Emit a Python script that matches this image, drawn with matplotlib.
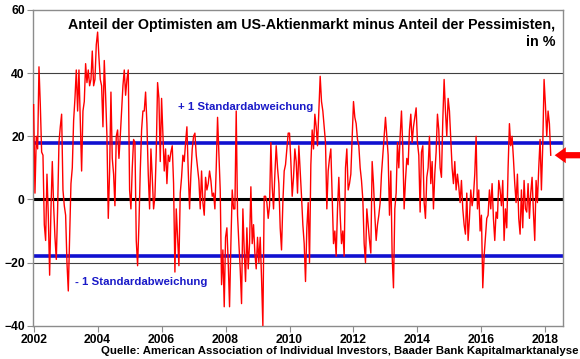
import numpy as np
import matplotlib
matplotlib.use("Agg")
import matplotlib.pyplot as plt

plt.rcParams['font.family'] = ['Liberation Sans', 'DejaVu Sans']
plt.rcParams['font.weight'] = 'bold'

# AAII bull-bear spread in %, two readings per month
v2002 = [30, 2, 20, 16, 42, 30, 15, 14, -8, -13, 8, -5, -24, -3, 12, -2, -12, -19, -3, 18, 23, 27, 3, -2]
v2003 = [-5, -20, -29, -12, 5, 10, 25, 32, 41, 28, 41, 25, 9, 28, 31, 43, 37, 41, 36, 38, 47, 36, 38, 49]
v2004 = [53, 45, 38, 36, 23, 44, 33, 20, -6, 9, 34, 13, 8, -2, 20, 22, 13, 20, 28, 36, 41, 33, 38, 41]
v2005 = [3, -3, 10, 19, 18, -13, -21, -8, 9, 22, 28, 28, 34, 24, 8, -3, 16, 7, -3, 1, 15, 37, 32, 12]
v2006 = [32, 20, 9, 16, 5, 14, 12, 15, 17, 5, -23, -3, -12, -21, 2, 7, 14, 12, 18, 23, 9, -3, 8, 16]
v2007 = [20, 21, 14, 10, 6, -3, 9, -1, -5, 7, 3, 5, 9, 6, 1, 2, -3, 10, 26, 14, 3, -27, -16, -34]
v2008 = [-12, -9, -20, -34, -14, 3, -3, -3, 28, -5, -14, -22, -33, -3, -16, -26, -9, -22, -14, 4, -14, -8, -17, -22]
v2009 = [-12, -20, -12, -25, -40, 1, 1, -1, -6, -2, 18, 4, -3, 8, 17, 10, 5, -9, -16, -1, 9, 11, 16, 21]
v2010 = [21, 12, 1, 7, 16, 12, 2, 17, 9, 1, -8, -14, -26, -9, -1, -20, 11, 22, 16, 27, 23, 17, 28, 39]
v2011 = [31, 28, 23, 18, -3, 9, 13, 16, 1, -14, -10, -18, -3, 7, -5, -14, -10, -18, 10, 16, 3, 5, 8, 20]
v2012 = [31, 26, 24, 19, 17, 10, 6, 0, -14, -20, -3, -8, -13, -17, 12, 5, -5, -13, -8, -5, -1, 8, 14, 20]
v2013 = [26, 20, 14, -5, 9, -18, -28, -3, 2, 18, 10, 20, 28, 16, -3, 6, 13, 11, 22, 27, 18, 23, 26, 29]
v2014 = [18, 14, -4, 15, 17, -1, -6, 7, 10, 20, 5, 12, -3, 8, 15, 27, 22, 10, 7, 25, 38, 28, 20, 32]
v2015 = [28, 19, 10, 5, 12, 3, 8, 4, -1, 6, -3, -8, -11, 2, -13, -6, 3, -2, 1, 8, 20, -3, 3, -10]
v2016 = [-5, -28, -18, -12, -6, -5, 3, -3, 5, -6, -13, -4, -6, 6, 3, -2, 6, -13, -3, -9, 10, 24, 17, 20]
v2017 = [13, 5, -1, 8, -6, -11, 3, -9, 6, -3, -4, 5, -6, 2, 7, -4, -13, 6, -1, 10, 19, 3, 17, 38]
v2018 = [30, 20, 28, 24, 14]

spread = np.array(v2002 + v2003 + v2004 + v2005 + v2006 + v2007 + v2008 + v2009
                  + v2010 + v2011 + v2012 + v2013 + v2014 + v2015 + v2016 + v2017 + v2018,
                  dtype=float)
dates = 2002 + np.arange(len(spread)) / 24.0

std_dev = 18
year_ticks = list(range(2002, 2019, 2))
value_ticks = [-40, -20, 0, 20, 40, 60]

title = "Anteil der Optimisten am US-Aktienmarkt minus Anteil der Pessimisten,\nin %"
source = "Quelle: American Association of Individual Investors, Baader Bank Kapitalmarktanalyse"

fig = plt.figure(figsize=(5.8, 3.59), dpi=100)
ax = fig.add_axes([33 / 580, 1 - 325.7 / 359, (563 - 33) / 580, (325.7 - 10) / 359])

grey = '#8c8c8c'
for g in [40, 20, -20]:
    ax.axhline(g, color='#404040', lw=0.8, zorder=1)
ax.axhline(0, color='black', lw=2.2, zorder=2)
ax.axhline(std_dev, color='#1010d0', lw=2.6, zorder=2)
ax.axhline(-std_dev, color='#1010d0', lw=2.6, zorder=2)

ax.plot(dates, spread, color='#ff0000', lw=1.0, zorder=3)

ax.set_xlim(2001.98, 2018.55)
ax.set_ylim(-40, 60)
ax.set_xticks(year_ticks)
ax.set_yticks(value_ticks)
ax.tick_params(axis='both', direction='out', length=4, color=grey, labelsize=8.7, pad=2)
for lab in ax.get_xticklabels() + ax.get_yticklabels():
    lab.set_fontweight('bold')
for s in ax.spines.values():
    s.set_color(grey)
    s.set_linewidth(1.0)

ax.text(0.985, 0.975, title, transform=ax.transAxes, ha='right', va='top',
        fontsize=10.3, fontweight='bold', linespacing=1.25, zorder=5)

ax.text(2006.5, 29.2, "+ 1 Standardabweichung", color='#1a1ac8', fontsize=8.2,
        fontweight='bold', va='center', ha='left', zorder=4)
ax.text(2003.3, -26.3, "- 1 Standardabweichung", color='#1a1ac8', fontsize=8.2,
        fontweight='bold', va='center', ha='left', zorder=4)

# red arrow pointing at the latest reading
ax.annotate('', xy=(2018.29, spread[-1]), xytext=(2019.15, spread[-1]),
            arrowprops=dict(arrowstyle='simple,head_length=0.8,head_width=1.15,tail_width=0.45',
                            color='#ff0000', lw=0, shrinkA=0, shrinkB=0),
            annotation_clip=False, zorder=6)

fig.text(0.997, 1 - 351.5 / 359, source, ha='right', va='center', fontsize=8.2,
         fontweight='bold')

fig.savefig('out.png', dpi=100)
